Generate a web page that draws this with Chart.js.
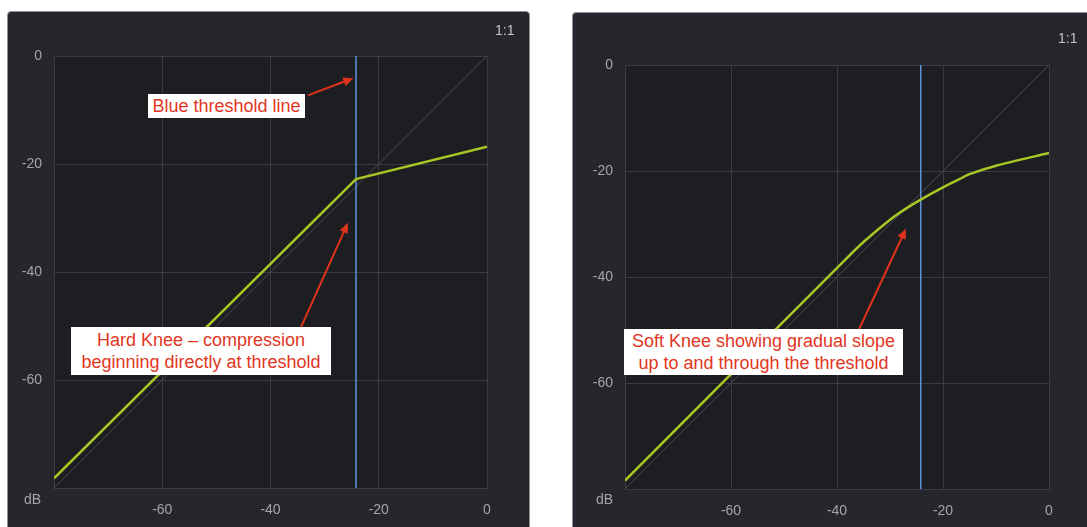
<!DOCTYPE html>
<html>
<head>
<meta charset="utf-8">
<script src="https://cdn.jsdelivr.net/npm/chart.js@4"></script>
<style>
  html, body { margin: 0; padding: 0; background: #fff; }
  body { width: 1087px; height: 527px; position: relative; overflow: hidden; font-family: "Liberation Sans", Arial, sans-serif; }
  .panel { position: absolute; background: #26272c; border: 1px solid #8e8f94; border-radius: 4px; box-sizing: border-box; }
  .panel canvas { position: absolute; left: 0; top: 0; }
  .ratio { position: absolute; color: #c2c3c8; font-size: 14px; }
  .db { position: absolute; color: #a3a4a9; font-size: 14px; }
  .note { position: absolute; background: #fff; color: #e2361e; font-size: 18px; text-align: center; line-height: 22px; box-sizing: border-box; white-space: nowrap; }
</style>
</head>
<body>
  <div class="panel" id="left-panel" style="left:7px;top:11px;width:523px;height:530px;">
    <canvas id="hard-chart" width="522" height="516"></canvas>
  </div>
  <div class="panel" id="right-panel" style="left:572px;top:12px;width:530px;height:530px;">
    <canvas id="soft-chart" width="515" height="515"></canvas>
  </div>

  <div class="ratio" style="left:495px;top:22px;">1:1</div>
  <div class="ratio" style="left:1058px;top:30px;">1:1</div>
  <div class="db" style="left:24px;top:491px;">dB</div>
  <div class="db" style="left:596px;top:491px;">dB</div>

  <div class="note" style="left:148px;top:94px;width:157px;height:24px;line-height:24px;">Blue threshold line</div>
  <div class="note" style="left:71px;top:327px;width:260px;height:48px;padding-top:2px;">Hard Knee – compression<br>beginning directly at threshold</div>
  <div class="note" style="left:624px;top:329px;width:279px;height:46px;padding-top:1px;">Soft Knee showing gradual slope<br>up to and through the threshold</div>

<script>
// axis (dB in / dB out)
const axisMin = -80;
const axisMax = 0;
const axisStep = 20;
const thresholdDb = -24.2;

// 1:1 reference line
const unityIn = [-80, 0];
const unityOut = [-80, 0];

// hard knee transfer curve
const hardKneeIn = [-80, -24.2, 0];
const hardKneeOut = [-78.2, -22.8, -16.8];

// soft knee transfer curve
const softKneeIn = [-80, -38, -35, -30, -27, -24.2, -20, -17, -15, -10, 0];
const softKneeOut = [-78.4, -36.3, -33.4, -29.2, -27.1, -25.4, -23.1, -21.6, -20.6, -19.0, -16.6];

// callout arrows [tail, tip] in dB
const thresholdArrow = [[-33.1, -7.3], [-24.7, -4.1]];
const hardKneeArrow = [[-34.4, -50.3], [-25.7, -30.9]];
const softKneeArrow = [[-35.9, -50.0], [-27.0, -30.9]];

const GRID = "#3b3c43";
const PLOT_BG = "#1d1e22";

Chart.defaults.font.family = '"Liberation Sans", Arial, sans-serif';
Chart.defaults.font.size = 14;
Chart.defaults.color = "#a3a4a9";

function toPoints(xs, ys) {
  return xs.map((x, i) => ({ x: x, y: ys[i] }));
}

function drawArrow(chart, arrow) {
  const sx = chart.scales.x, sy = chart.scales.y;
  const x1 = sx.getPixelForValue(arrow[0][0]), y1 = sy.getPixelForValue(arrow[0][1]);
  const x2 = sx.getPixelForValue(arrow[1][0]), y2 = sy.getPixelForValue(arrow[1][1]);
  const c = Math.cos(Math.atan2(y2 - y1, x2 - x1)), s = Math.sin(Math.atan2(y2 - y1, x2 - x1));
  const ctx = chart.ctx;
  ctx.save();
  ctx.strokeStyle = "#e0331d";
  ctx.fillStyle = "#e0331d";
  ctx.lineWidth = 2;
  ctx.beginPath();
  ctx.moveTo(x1, y1);
  ctx.lineTo(x2 - 6 * c, y2 - 6 * s);
  ctx.stroke();
  ctx.beginPath();
  ctx.moveTo(x2, y2);
  ctx.lineTo(x2 - 10 * c + 4.5 * s, y2 - 10 * s - 4.5 * c);
  ctx.lineTo(x2 - 10 * c - 4.5 * s, y2 - 10 * s + 4.5 * c);
  ctx.closePath();
  ctx.fill();
  ctx.restore();
}

// dark plot area + red callout arrows
const panelPlugin = {
  id: "panel",
  beforeDraw(chart) {
    const a = chart.chartArea;
    const ctx = chart.ctx;
    ctx.save();
    ctx.fillStyle = PLOT_BG;
    ctx.fillRect(a.left, a.top, a.right - a.left, a.bottom - a.top);
    ctx.restore();
  },
  afterDatasetsDraw(chart, args, opts) {
    (opts.arrows || []).forEach(a => drawArrow(chart, a));
  }
};

function createChart(canvas, curveIn, curveOut, tension, arrows, box) {
  const tick = v => (v === axisMin ? "" : v);
  return new Chart(canvas.getContext("2d"), {
    type: "line",
    data: {
      datasets: [
        {
          data: toPoints(curveIn, curveOut),
          borderColor: "#a8c624",
          borderWidth: 2.5,
          tension: tension,
          pointRadius: 0
        },
        {
          data: toPoints([thresholdDb, thresholdDb], [axisMin, axisMax]),
          borderColor: "#5e92da",
          borderWidth: 1.5,
          pointRadius: 0
        },
        {
          data: toPoints(unityIn, unityOut),
          borderColor: "#4a4b51",
          borderWidth: 1,
          pointRadius: 0
        }
      ]
    },
    options: {
      responsive: false,
      animation: false,
      layout: { padding: { left: 0, top: box.top, right: box.right, bottom: 0 } },
      plugins: {
        legend: { display: false },
        tooltip: { enabled: false },
        panel: { arrows: arrows }
      },
      scales: {
        x: {
          type: "linear",
          min: axisMin,
          max: axisMax,
          afterFit: s => { s.height = box.xHeight; },
          grid: { color: GRID, drawTicks: false },
          border: { color: GRID },
          ticks: { stepSize: axisStep, padding: 14, callback: tick, maxRotation: 0 }
        },
        y: {
          type: "linear",
          min: axisMin,
          max: axisMax,
          afterFit: s => { s.width = box.yWidth; },
          grid: { color: GRID, drawTicks: false },
          border: { color: GRID },
          ticks: { stepSize: axisStep, padding: 12, callback: tick }
        }
      }
    },
    plugins: [panelPlugin]
  });
}

createChart(document.getElementById("hard-chart"), hardKneeIn, hardKneeOut, 0,
  [thresholdArrow, hardKneeArrow], { top: 44, right: 43, xHeight: 40, yWidth: 46 });
createChart(document.getElementById("soft-chart"), softKneeIn, softKneeOut, 0.3,
  [softKneeArrow], { top: 52, right: 39, xHeight: 39, yWidth: 52 });
</script>
</body>
</html>
